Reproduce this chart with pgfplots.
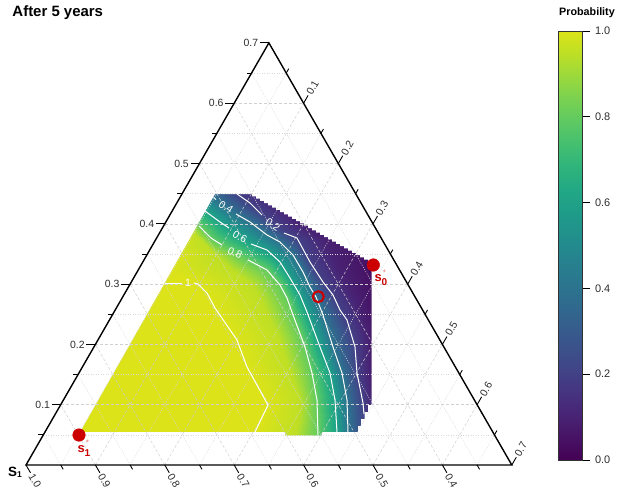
\documentclass[border=0pt]{standalone}
\usepackage{pgfplots}
\pgfplotsset{compat=1.18}
\usepackage{pgfplotstable}
\usepackage{fontspec}
\setmainfont{Liberation Sans}
\definecolor{ptred}{RGB}{204,0,0}
\definecolor{ptpink}{RGB}{238,120,120}
\definecolor{gmaj}{RGB}{208,208,208}
\definecolor{gmin}{RGB}{218,218,218}
\definecolor{lab}{RGB}{45,45,45}
\pgfplotsset{colormap={vir}{rgb255(0cm)=(68,1,84); rgb255(1cm)=(71,19,101); rgb255(2cm)=(72,36,117); rgb255(3cm)=(70,52,128); rgb255(4cm)=(65,68,135); rgb255(5cm)=(59,82,139); rgb255(6cm)=(53,95,141); rgb255(7cm)=(47,108,142); rgb255(8cm)=(42,120,142); rgb255(9cm)=(37,132,142); rgb255(10cm)=(33,145,140); rgb255(11cm)=(30,156,137); rgb255(12cm)=(34,168,132); rgb255(13cm)=(47,180,124); rgb255(14cm)=(68,191,112); rgb255(15cm)=(94,201,98); rgb255(16cm)=(122,209,81); rgb255(17cm)=(155,217,60); rgb255(18cm)=(189,223,38); rgb255(19cm)=(220,227,25)}}
\tikzset{
 gmajs/.style={gmaj,line width=0.5bp,dash pattern=on 3bp off 2bp},
 gmins/.style={gmin,line width=0.5bp,dash pattern=on 1bp off 1.5bp},
 tk/.style={black,line width=0.9bp},
 ctr/.style={white,line width=1bp,mark=none},
 clab/.style={white,inner sep=0pt,font=\fontsize{10.5}{12}\selectfont},
}
\newcommand\tl{\fontsize{10.5}{12}\selectfont}
% heat map: x y (pixels) and probability
\pgfplotstableread{
x y v
55 194 1
135 194 1
158.2 194 0.95
170.7 194 0.8
187.6 194 0.6
208.7 194 0.4
237 194 0.2
267 194 0.1
378 194 0.03
55 210 1
150 210 1
172.8 210 0.95
185 210 0.8
205.6 210 0.6
230.1 210 0.4
258 210 0.2
286 210 0.1
378 210 0.03
55 225 1
165 225 1
187.2 225 0.95
199.2 225 0.8
224.5 225 0.6
253.9 225 0.4
275 225 0.2
302 225 0.1
378 225 0.03
55 240 1
178 240 1
201 240 0.95
213.4 240 0.8
247 240 0.6
276.3 240 0.4
298 240 0.2
324 240 0.1
378 240 0.03
55 255 1
172 255 1
215.9 255 0.95
239.6 255 0.8
272.4 255 0.6
293 255 0.4
306.2 255 0.2
331.2 255 0.1
378 255 0.03
55 270 1
168 270 1
232.4 270 0.95
267 270 0.8
285 270 0.6
301.8 270 0.4
315.2 270 0.2
339.2 270 0.1
378 270 0.03
55 285 1
199 285 1
251.7 285 0.95
280 285 0.8
294.1 285 0.6
309.1 285 0.4
325.3 285 0.2
347.3 285 0.1
378 285 0.03
55 300 1
210.7 300 1
260.8 300 0.95
287.7 300 0.8
302.1 300 0.6
317.2 300 0.4
335.3 300 0.2
355.3 300 0.1
378 300 0.03
55 315 1
219.8 315 1
267.4 315 0.95
293 315 0.8
308.1 315 0.6
323 315 0.4
343.5 315 0.2
361.5 315 0.1
378 315 0.03
55 330 1
230.1 330 1
274.6 330 0.95
298.6 330 0.8
313.7 330 0.6
327.7 330 0.4
350 330 0.2
366 330 0.1
378 330 0.03
55 345 1
238.9 345 1
281.3 345 0.95
304.2 345 0.8
319.3 345 0.6
332.4 345 0.4
354.4 345 0.2
368.4 345 0.1
378 345 0.03
55 360 1
244.4 360 1
286.1 360 0.95
308.5 360 0.8
325 360 0.6
337.5 360 0.4
356 360 0.2
369 360 0.1
378 360 0.03
55 375 1
251.4 375 1
291.1 375 0.95
312.4 375 0.8
330.4 375 0.6
342.4 375 0.4
357.4 375 0.2
369.4 375 0.1
378 375 0.03
55 390 1
259.7 390 1
295.7 390 0.95
315.1 390 0.8
333.1 390 0.6
345.1 390 0.4
360.4 390 0.2
371.4 390 0.1
378 390 0.03
55 405 1
268 405 1
300 405 0.95
317.2 405 0.8
335.3 405 0.6
347.2 405 0.4
363.2 405 0.2
373.2 405 0.1
378 405 0.03
55 420 1
260.8 420 1
297.7 420 0.95
317.6 420 0.8
336.3 420 0.6
347.6 420 0.4
364.5 420 0.2
374.5 420 0.1
378 420 0.03
55 438 1
253 438 1
295.3 438 0.95
318 438 0.8
337.2 438 0.6
348.1 438 0.4
366 438 0.2
376 438 0.1
378 438 0.03
}\heat
\begin{document}
\begin{tikzpicture}
\path[use as bounding box] (0,0) rectangle (620bp,494bp);
\begin{axis}[at={(0,0)},anchor=south west,scale only axis,width=620bp,height=494bp,
 xmin=0,xmax=620,ymin=0,ymax=494,y dir=reverse,hide axis,clip=false,
 colormap name=vir,point meta min=0,point meta max=1]
% heat map
\addplot[surf,shader=interp,mesh/cols=9,point meta=explicit] table[x=x,y=y,meta=v]{\heat};
% mask outside the computed region
\fill[white,even odd rule] (axis cs:48,186) rectangle (axis cs:386,444)
 (axis cs:80,432) -- (axis cs:285,432) -- (axis cs:285,435.7) -- (axis cs:322,435.7) -- (axis cs:322,432)
 -- (axis cs:358,432) -- (axis cs:358,426) -- (axis cs:361,426) -- (axis cs:361,419) -- (axis cs:364.5,419)
 -- (axis cs:364.5,412) -- (axis cs:368,412) -- (axis cs:368,405) -- (axis cs:371.5,405) -- (axis cs:371.5,262)
 \foreach \k in {29,28,...,0} { -- (axis cs:{252+4*\k},{194+2.267*(\k+1)}) -- (axis cs:{252+4*\k},{194+2.267*\k}) }
 -- (axis cs:215,194) -- cycle;
% grid
\pgfplotsinvokeforeach{0.1,0.2,0.3,0.4,0.5,0.6}{
 \draw[gmajs] (axis cs:{26+347*#1},{465-603*#1}) -- (axis cs:{511.8-347*#1},{465-603*#1});
 \draw[gmajs] (axis cs:{26+694*#1},465) -- (axis cs:{268.9+347*#1},{42.9+603*#1});
 \draw[gmajs] (axis cs:{26+694*#1},465) -- (axis cs:{26+347*#1},{465-603*#1});
}
\pgfplotsinvokeforeach{0.05,0.15,0.25,0.35,0.45,0.55,0.65}{
 \draw[gmins] (axis cs:{26+347*#1},{465-603*#1}) -- (axis cs:{511.8-347*#1},{465-603*#1});
 \draw[gmins] (axis cs:{26+694*#1},465) -- (axis cs:{268.9+347*#1},{42.9+603*#1});
 \draw[gmins] (axis cs:{26+694*#1},465) -- (axis cs:{26+347*#1},{465-603*#1});
}
% contours
\addplot[ctr] coordinates {(237,194) (250,203) (262,215)};
\addplot[ctr] coordinates {(284,233) (297,238) (310,262) (323,282) (333,295) (340,310) (347,320) (355,347) (357,373) (363,403) (364,414)};
\addplot[ctr] coordinates {(213.5,197.5) (216,199.5)};
\addplot[ctr] coordinates {(236,214) (250,222) (267,235) (280,242) (293,255) (303,272) (310,287) (316,297) (323,315) (333,347) (342,373) (347,400) (348,432)};
\addplot[ctr] coordinates {(205,211) (220,222) (229,228)};
\addplot[ctr] coordinates {(251,244) (267,250) (280,262) (290,278) (300,295) (307,312) (320,347) (330,373) (335,400) (337,432)};
\addplot[ctr] coordinates {(199,226) (211,238) (222,245)};
\addplot[ctr] coordinates {(248,260) (267,270) (280,285) (287,298) (293,315) (305,347) (312,373) (317,400) (318,435)};
\addplot[ctr] coordinates {(165,283) (182,283)};
\addplot[ctr] coordinates {(194,283) (198,284) (207,293) (215,308) (237,340) (247,367) (268,405) (255,432)};
\node[clab,rotate=-33] at (axis cs:226,207) {0.4};
\node[clab,rotate=-35] at (axis cs:273,225) {0.2};
\node[clab,rotate=-30] at (axis cs:240,237) {0.6};
\node[clab,rotate=-25] at (axis cs:235,253) {0.8};
\node[clab] at (axis cs:188,283) {1};
% triangle
\draw[black,line width=1.4bp,line join=miter] (axis cs:26,465) -- (axis cs:511.8,465) -- (axis cs:268.9,42.9) -- cycle;
% left axis
\pgfplotsinvokeforeach{0.1,0.2,0.3,0.4,0.5,0.6,0.7}{
 \draw[tk] (axis cs:{26+347*#1},{465-603*#1}) -- ++(-9bp,0);
 \node[anchor=east,font=\tl,text=lab,inner sep=1.5bp] at (axis cs:{17+347*#1},{465-603*#1}) {#1};
}
\pgfplotsinvokeforeach{0.05,0.15,0.25,0.35,0.45,0.55,0.65}{
 \draw[tk] (axis cs:{26+347*#1},{465-603*#1}) -- ++(-5bp,0);
 \draw[tk] (axis cs:{26+694*#1},465) -- ++(2.5bp,-4.33bp);
 \draw[tk] (axis cs:{268.9+347*#1},{42.9+603*#1}) -- ++(2.5bp,4.33bp);
}
% bottom axis
\pgfplotsinvokeforeach{0,0.1,0.2,0.3,0.4,0.5,0.6}{
 \draw[tk] (axis cs:{26+694*#1},465) -- ++(4.5bp,-7.8bp);
}
\node[anchor=west,rotate=-60,font=\tl,text=lab,inner sep=1.5bp] at (axis cs:30.5,472.8) {1.0};
\node[anchor=west,rotate=-60,font=\tl,text=lab,inner sep=1.5bp] at (axis cs:99.9,472.8) {0.9};
\node[anchor=west,rotate=-60,font=\tl,text=lab,inner sep=1.5bp] at (axis cs:169.3,472.8) {0.8};
\node[anchor=west,rotate=-60,font=\tl,text=lab,inner sep=1.5bp] at (axis cs:238.7,472.8) {0.7};
\node[anchor=west,rotate=-60,font=\tl,text=lab,inner sep=1.5bp] at (axis cs:308.1,472.8) {0.6};
\node[anchor=west,rotate=-60,font=\tl,text=lab,inner sep=1.5bp] at (axis cs:377.5,472.8) {0.5};
\node[anchor=west,rotate=-60,font=\tl,text=lab,inner sep=1.5bp] at (axis cs:446.9,472.8) {0.4};
% right axis
\pgfplotsinvokeforeach{0.1,0.2,0.3,0.4,0.5,0.6,0.7}{
 \draw[tk] (axis cs:{268.9+347*#1},{42.9+603*#1}) -- ++(4.5bp,7.8bp);
 \node[anchor=west,rotate=60,font=\tl,text=lab,inner sep=1.5bp] at (axis cs:{273.4+347*#1},{35.1+603*#1}) {#1};
}
% points
\addplot[only marks,mark=*,mark size=6.3bp,color=ptred] coordinates {(373.3,265) (79,435)};
\addplot[only marks,mark=o,mark size=5.5bp,color=ptred,mark options={line width=2.1bp}] coordinates {(318.3,296.7)};
\node[anchor=base west,inner sep=0,text=ptred,font=\fontsize{13}{14}\selectfont\bfseries] at (axis cs:374.5,281.5) {s};
\node[anchor=base west,inner sep=0,text=ptred,font=\fontsize{10}{11}\selectfont\bfseries] at (axis cs:381.5,285.5) {0};
\node[anchor=base,inner sep=0,text=ptpink,font=\fontsize{8}{9}\selectfont] at (axis cs:384.5,275) {*};
\node[anchor=base west,inner sep=0,text=ptred,font=\fontsize{13}{14}\selectfont\bfseries] at (axis cs:77.5,452) {s};
\node[anchor=base west,inner sep=0,text=ptred,font=\fontsize{10}{11}\selectfont\bfseries] at (axis cs:84.5,456) {1};
\node[anchor=base,inner sep=0,text=ptpink,font=\fontsize{8}{9}\selectfont] at (axis cs:87.5,445.5) {*};
% texts
\node[anchor=base west,inner sep=0,font=\fontsize{13.5}{15}\selectfont\bfseries] at (axis cs:8,476.7) {S\raisebox{-0.8bp}{\fontsize{8.5}{9}\selectfont 1}};
\node[anchor=base west,inner sep=0,font=\fontsize{15}{18}\selectfont\bfseries] at (axis cs:12.3,16.7) {After 5 years};
\node[anchor=base west,inner sep=0,font=\fontsize{10.8}{13}\selectfont\bfseries] at (axis cs:559,16) {Probability};
\end{axis}
% colour bar
\begin{axis}[at={(558bp,34bp)},anchor=south west,scale only axis,width=24bp,height=429bp,
 xmin=0,xmax=1,ymin=0,ymax=1,colormap name=vir,point meta min=0,point meta max=1,
 xtick=\empty,ytick={0,0.2,0.4,0.6,0.8,1},yticklabels={0.0,0.2,0.4,0.6,0.8,1.0},
 ytick pos=right,yticklabel pos=right,tick align=outside,major tick length=8bp,
 tick style={black,line width=0.7bp},axis line style={draw=black!80,line width=0.6bp},
 yticklabel style={font=\fontsize{11}{12}\selectfont,text=lab,xshift=1.5bp},axis on top]
\addplot[surf,shader=interp,mesh/cols=2,point meta=explicit] table[meta=v]{
x y v
0 0 0
1 0 0
0 0.1 0.1
1 0.1 0.1
0 0.2 0.2
1 0.2 0.2
0 0.3 0.3
1 0.3 0.3
0 0.4 0.4
1 0.4 0.4
0 0.5 0.5
1 0.5 0.5
0 0.6 0.6
1 0.6 0.6
0 0.7 0.7
1 0.7 0.7
0 0.8 0.8
1 0.8 0.8
0 0.9 0.9
1 0.9 0.9
0 1 1
1 1 1
};
\end{axis}
\end{tikzpicture}
\end{document}
